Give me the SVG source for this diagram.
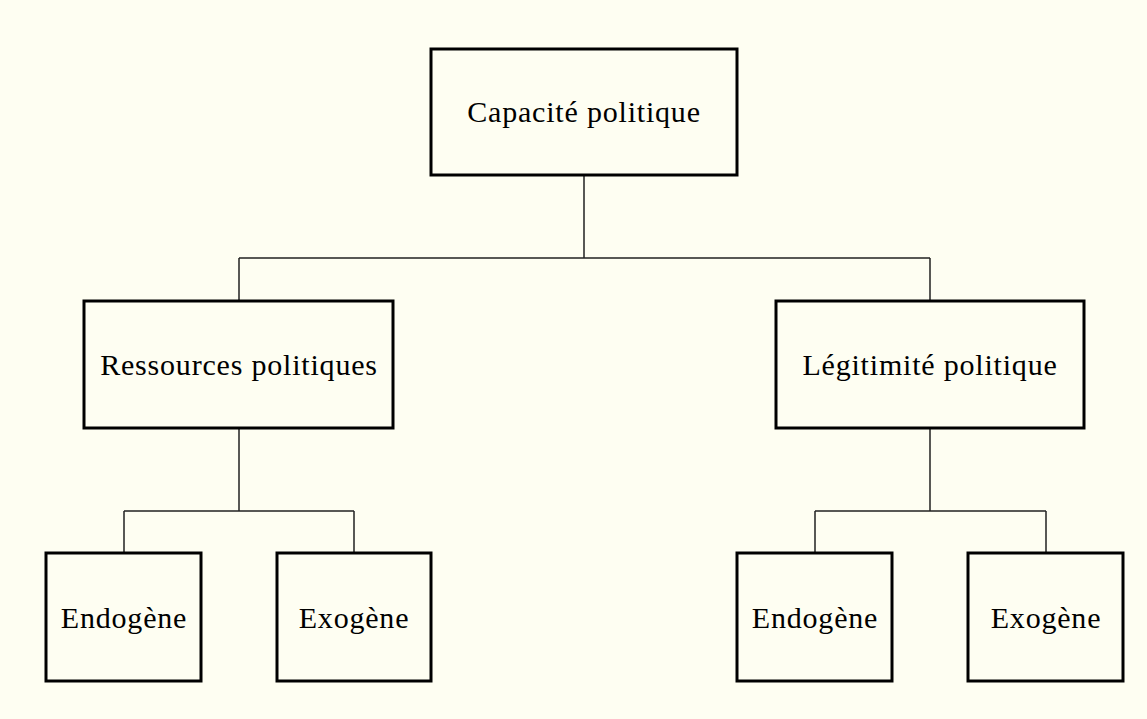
<svg xmlns="http://www.w3.org/2000/svg" width="1147" height="719" viewBox="0 0 1147 719">
<style>
.box{fill:#FEFEF2;stroke:#000;stroke-width:3}
.lbl{font-family:"Liberation Serif","Times New Roman",serif;font-size:30px;letter-spacing:0.8px;fill:#000;text-anchor:middle}
.conn{fill:none;stroke:#222;stroke-width:1.5}
</style>
<rect x="0" y="0" width="1147" height="719" fill="#FEFEF2"/>
<g id="connectors">
<path class="conn" d="M584 175V258M239 258H930M239 258V301M930 258V301"/>
<path class="conn" d="M239 428V511M124 511H354M124 511V553M354 511V553"/>
<path class="conn" d="M930 428V511M815 511H1046M815 511V553M1046 511V553"/>
</g>
<g id="capacite"><rect class="box" x="431" y="49" width="306" height="126"/><text class="lbl" x="584" y="122">Capacité politique</text></g>
<g id="ressources"><rect class="box" x="84" y="301" width="309" height="127"/><text class="lbl" x="239" y="375">Ressources politiques</text></g>
<g id="legitimite"><rect class="box" x="776" y="301" width="308" height="127"/><text class="lbl" x="930" y="375">Légitimité politique</text></g>
<g id="endogene1"><rect class="box" x="46" y="553" width="155" height="128"/><text class="lbl" x="124" y="628">Endogène</text></g>
<g id="exogene1"><rect class="box" x="277" y="553" width="154" height="128"/><text class="lbl" x="354" y="628">Exogène</text></g>
<g id="endogene2"><rect class="box" x="737" y="553" width="155" height="128"/><text class="lbl" x="815" y="628">Endogène</text></g>
<g id="exogene2"><rect class="box" x="968" y="553" width="155" height="128"/><text class="lbl" x="1046" y="628">Exogène</text></g>
</svg>
